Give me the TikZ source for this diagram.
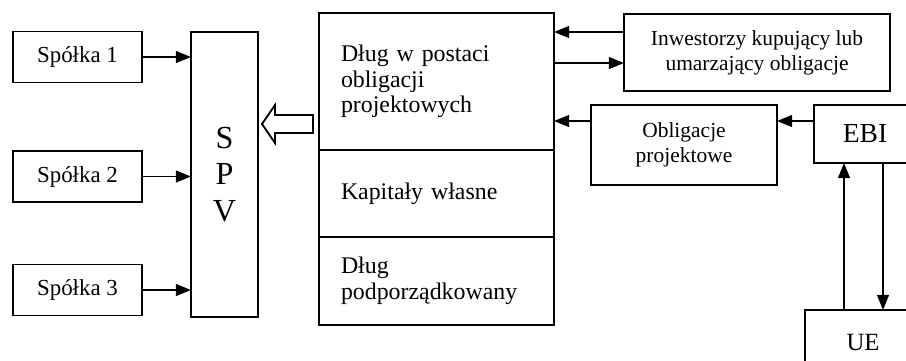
\documentclass[tikz,border=0pt]{standalone}
\usepackage{fontspec}
\setmainfont{Liberation Serif}
\usetikzlibrary{arrows.meta,positioning,calc}

\begin{document}
\begin{tikzpicture}[x=0.545pt, y=-0.545pt, font=\fontsize{12.5}{14}\selectfont,
  >={Triangle[length=8.2pt,width=6.4pt]}, line width=1pt,
  box/.style={draw, line width=1pt, inner sep=0pt, outer sep=0pt, align=center},
  part/.style={box, anchor=north west, align=left, minimum width=235*\px,
    text width=191*\px, inner xsep=22*\px, font=\fontsize{13}{14}\selectfont},
  small/.style={font=\fontsize{11.7}{13.6}\selectfont}]
\def\px{0.545pt}
\useasboundingbox (0,0) rectangle (906,360);
\clip (0,0) rectangle (906,360);
\node[box, minimum width=67*\px, minimum height=285*\px,
  font=\fontsize{17.5}{20}\selectfont] (spv) at (224.5,174.5) {S\\P\\V};
\foreach \i/\y in {1/57, 2/176.5, 3/290}{
  \node[box, minimum width=129*\px, minimum height=51*\px] (s\i) at (77.5,\y) {Spółka \i};
  \draw[->] (s\i.east) -- (spv.west |- s\i.east);
}
\node[part, minimum height=137*\px] (dlug) at (319,13) {Dług w postaci\\obligacji\\projektowych};
\node[part, minimum height=87*\px, below=0pt of dlug] (kap) {Kapitały własne};
\node[part, minimum height=88*\px, below=0pt of kap] (pod) {Dług\\podporządkowany};
\draw (262,124) -- (275,105) -- (275,115) -- (313,115) -- (313,133)
  -- (275,133) -- (275,143) -- cycle;
\node[box, small, minimum width=266*\px, minimum height=77*\px] (inw) at (757,52.5)
  {Inwestorzy kupujący lub\\umarzający obligacje};
\node[box, small, minimum width=186*\px, minimum height=80*\px] (obl) at (684,145)
  {Obligacje\\projektowe};
\node[box, font=\fontsize{15}{17}\selectfont, minimum width=102*\px,
  minimum height=58*\px] (ebi) at (865,134) {EBI};
\node[box, font=\fontsize{13.5}{15}\selectfont, minimum width=116*\px,
  minimum height=64*\px] (ue) at (863,342) {UE};
\draw[->] (inw.west |- 0,32) -- (dlug.east |- 0,32);
\draw[->] (dlug.east |- 0,63) -- (inw.west |- 0,63);
\draw[->] (obl.west |- 0,121) -- (dlug.east |- 0,121);
\draw[->] (ebi.west |- 0,121) -- (obl.east |- 0,121);
\draw[->] (ue.north -| 844,0) -- (ebi.south -| 844,0);
\draw[->] (ebi.south -| 883,0) -- (ue.north -| 883,0);
\end{tikzpicture}
\end{document}
